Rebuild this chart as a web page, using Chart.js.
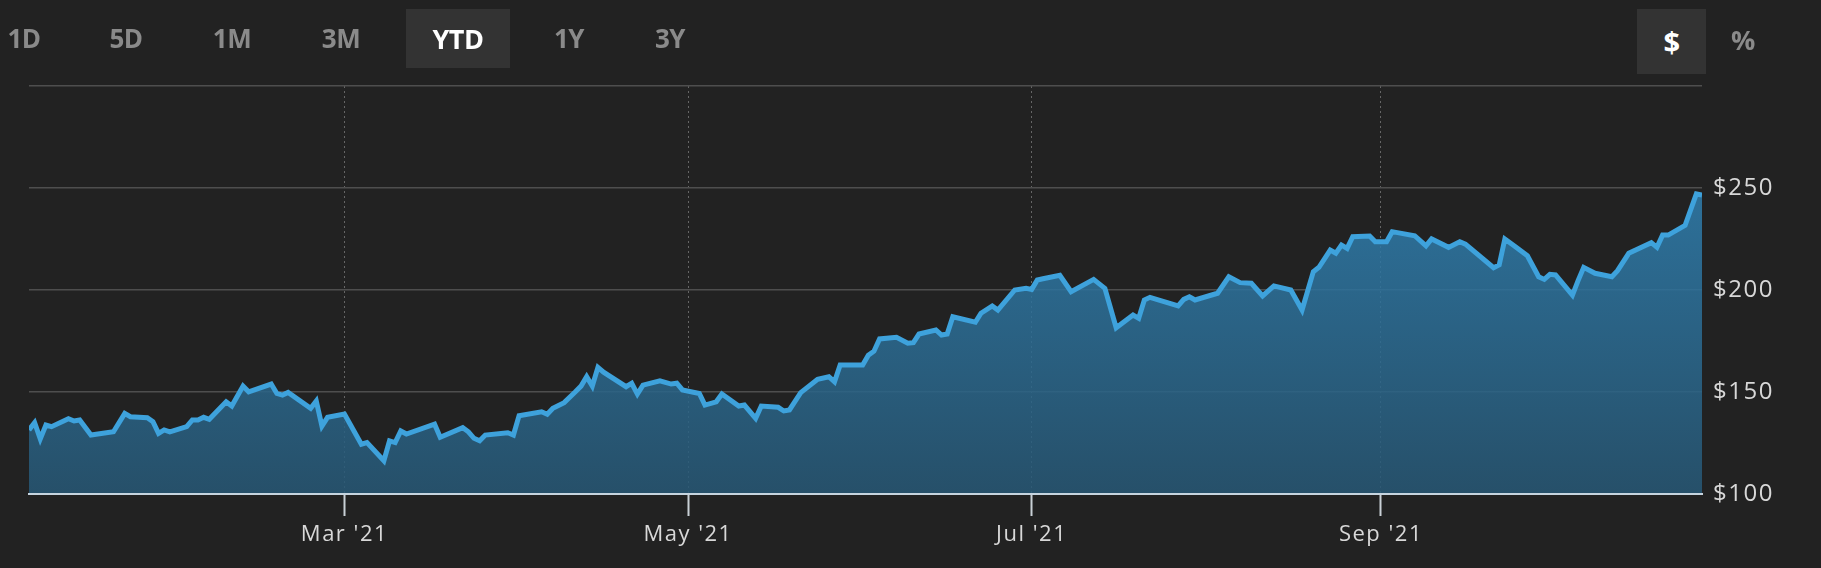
<!DOCTYPE html>
<html>
<head>
<meta charset="utf-8">
<script src="https://cdn.jsdelivr.net/npm/chart.js@4/dist/chart.umd.min.js"></script>
<style>
  body { margin: 0; background: #222222; }
  #wrap { position: relative; width: 1821px; height: 568px; background: #222222; overflow: hidden; }
  #chart { position: absolute; left: 0; top: 0; }
  .btn {
    position: absolute; top: 9px; height: 59px; line-height: 59px;
    font-family: "Open Sans", sans-serif; font-weight: 700; font-size: 26px;
    color: #8a8a8a; text-align: center; letter-spacing: -0.5px;
  }
  .btn.on { color: #ffffff; background: #333333; }
</style>
</head>
<body>
<div id="wrap">
  <canvas id="chart" width="1821" height="568"></canvas>
  <div class="btn" style="left:0px;width:48px">1D</div>
  <div class="btn" style="left:96px;width:60px">5D</div>
  <div class="btn" style="left:202px;width:60px">1M</div>
  <div class="btn" style="left:311px;width:60px">3M</div>
  <div class="btn on" style="left:406px;width:104px;font-size:27px">YTD</div>
  <div class="btn" style="left:539px;width:60px">1Y</div>
  <div class="btn" style="left:640px;width:60px">3Y</div>
  <div class="btn on" style="left:1637px;width:69px;height:65px;line-height:65px;font-size:29px">$</div>
  <div class="btn" style="left:1718px;width:50px;height:62px;line-height:62px;font-size:27px">%</div>
</div>
<script>
// days counted from 1 Jan 2021 (YTD), price in $
const days = [
  3, 4, 5, 6, 7, 10, 11, 12, 14, 18, 20, 21, 24, 25, 26, 27, 28, 31, 32, 33,
  34, 35, 38, 39, 41, 42, 46, 47, 48, 49, 53, 54, 55, 56, 59, 62, 63, 66, 67, 68,
  69, 70, 75, 76, 80, 81, 82, 83, 84, 88, 89, 90, 94, 95, 96, 98, 100, 101, 102, 103,
  104, 105, 109, 110, 111, 112, 115, 117, 118, 119, 122, 123, 125, 126, 129, 130, 132, 133, 136, 137,
  138, 140, 143, 145, 146, 147, 151, 152, 153, 154, 157, 159, 160, 161, 164, 165, 166, 167, 171, 172,
  174, 175, 178, 180, 181, 182, 183, 186, 188, 192, 194, 196, 199, 200, 201, 202, 207, 208, 209, 210,
  214, 216, 218, 220, 222, 224, 227, 229, 231, 232, 234, 235, 236, 237, 238, 241, 242, 244, 245, 249,
  251, 252, 255, 257, 258, 263, 264, 265, 267, 269, 271, 272, 273, 274, 277, 278, 279, 281, 284, 285,
  287, 291, 292, 293, 294, 297, 299, 300
];
const prices = [
  131.4, 135.0, 127.0, 133.8, 133.0, 136.9, 135.8, 136.3, 128.9, 130.5, 139.5, 137.9, 137.4, 135.5, 129.7, 131.4, 130.5, 133.0, 136.3, 136.3,
  137.6, 136.6, 145.2, 143.1, 152.9, 150.1, 153.9, 149.3, 148.5, 149.8, 142.0, 145.6, 133.3, 137.6, 139.2, 124.4, 125.2, 116.3, 126.0, 125.2,
  130.9, 129.4, 134.2, 127.8, 132.5, 130.5, 127.3, 126.1, 128.9, 130.0, 128.9, 138.4, 140.3, 139.1, 142.0, 144.8, 150.1, 152.9, 157.5, 152.9,
  162.1, 159.7, 152.6, 154.3, 149.0, 153.4, 155.5, 153.9, 154.3, 151.0, 149.3, 143.6, 145.2, 149.0, 143.1, 143.6, 137.1, 143.1, 142.5, 140.7,
  141.2, 149.7, 156.2, 157.5, 155.0, 163.2, 163.2, 168.0, 170.0, 176.0, 176.8, 173.9, 174.2, 178.4, 180.4, 177.9, 178.4, 186.9, 184.2, 188.6,
  192.2, 190.2, 200.0, 200.8, 200.3, 204.9, 205.5, 207.2, 199.2, 205.2, 200.8, 181.5, 187.7, 186.1, 195.1, 196.4, 192.2, 195.4, 196.7, 195.1,
  198.4, 206.5, 203.6, 203.3, 197.1, 202.0, 200.0, 190.2, 209.0, 211.1, 219.6, 218.0, 222.0, 220.4, 226.1, 226.5, 223.7, 223.7, 228.6, 226.6,
  221.6, 225.0, 220.9, 223.7, 222.5, 210.9, 212.3, 225.0, 220.9, 216.8, 206.5, 205.2, 207.7, 207.4, 197.5, 204.6, 211.1, 208.2, 206.5, 209.5,
  218.0, 223.2, 220.9, 226.9, 226.9, 231.7, 247.1, 246.6
];
const tickDays = [59, 120, 181, 243];
const tickLabels = ["Mar '21", "May '21", "Jul '21", "Sep '21"];
const priceTicks = [100, 150, 200, 250, 300];

const points = days.map((d, i) => ({ x: d, y: prices[i] }));

// axis labels in the original are a little spaced out
const spacedText = {
  id: 'spacedText',
  beforeDraw: (chart) => { chart.ctx.letterSpacing = '1.5px'; }
};

const ctx = document.getElementById('chart').getContext('2d');

new Chart(ctx, {
  type: 'line',
  data: {
    datasets: [{
      data: points,
      borderColor: '#3ea2dc',
      borderWidth: 5,
      pointRadius: 0,
      tension: 0,
      fill: 'start',
      backgroundColor: (c) => {
        const area = c.chart.chartArea;
        if (!area) return 'rgba(45,110,150,0.85)';
        const g = c.chart.ctx.createLinearGradient(0, area.top, 0, area.bottom);
        g.addColorStop(0, 'rgba(50,140,195,0.85)');
        g.addColorStop(1, 'rgba(39,88,118,0.85)');
        return g;
      }
    }]
  },
  plugins: [spacedText],
  options: {
    responsive: false,
    animation: false,
    devicePixelRatio: 1,
    layout: { padding: { top: 86, left: 29, right: 0, bottom: 0 } },
    plugins: { legend: { display: false }, tooltip: { enabled: false } },
    scales: {
      x: {
        type: 'linear',
        min: days[0],
        max: days[days.length - 1],
        afterBuildTicks: (s) => { s.ticks = tickDays.map(v => ({ value: v })); },
        afterFit: (s) => { s.height = 74; },
        grid: {
          color: 'rgba(110,110,110,0.9)',
          lineWidth: 1,
          tickColor: '#c9d0d6',
          tickWidth: 2,
          tickLength: 22
        },
        border: { display: true, color: '#c6d4df', width: 2, dash: [2, 3], z: 1 },
        ticks: {
          autoSkip: false,
          maxRotation: 0,
          padding: 6,
          color: '#d8d8d8',
          font: { family: 'Open Sans', size: 22 },
          callback: (v, i) => tickLabels[i]
        }
      },
      y: {
        position: 'right',
        min: 100,
        max: 300,
        afterBuildTicks: (s) => { s.ticks = priceTicks.map(v => ({ value: v })); },
        afterFit: (s) => { s.width = 119; },
        grid: { color: '#4e4e4e', lineWidth: 1.5, drawTicks: false },
        border: { display: false },
        ticks: {
          padding: 11,
          color: '#d8d8d8',
          font: { family: 'Open Sans', size: 24 },
          callback: (v) => (v === 300 ? '' : '$' + v)
        }
      }
    }
  }
});
</script>
</body>
</html>
